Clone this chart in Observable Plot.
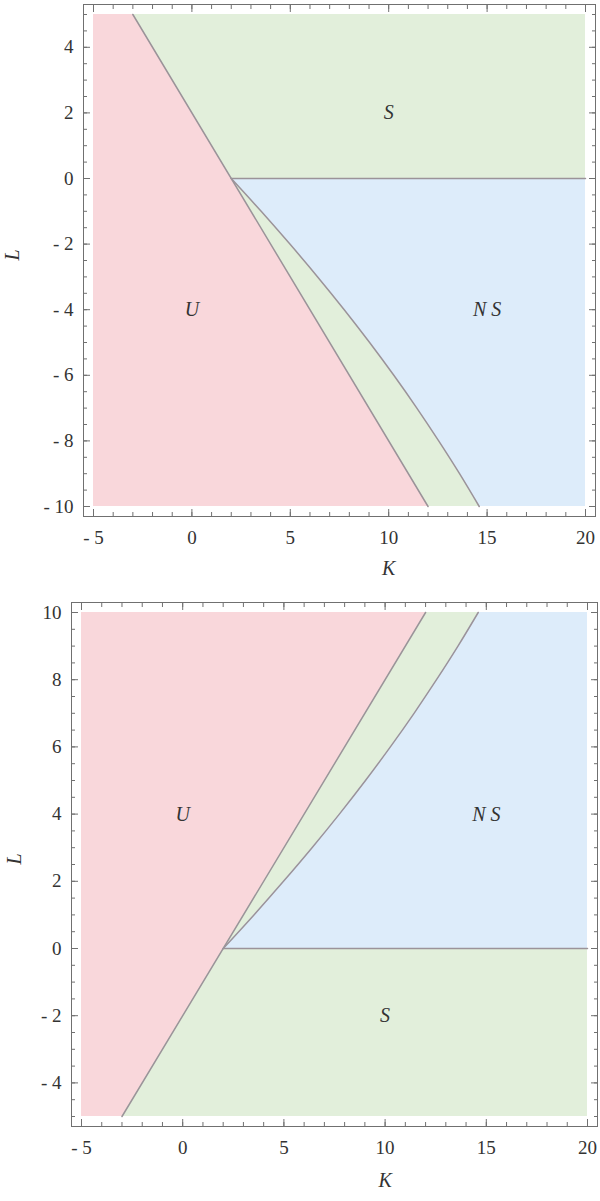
<!DOCTYPE html>
<html><head><meta charset="utf-8">
<script src="https://cdn.jsdelivr.net/npm/d3@7"></script>
<script src="https://cdn.jsdelivr.net/npm/@observablehq/plot@0.6"></script>
<style>body{margin:0;background:#fff} svg{display:block}</style>
</head><body><div id="c"></div>
<script>
// ---- data ----
const kDomain = [-5, 20];
const kMajor = [-5, 0, 5, 10, 15, 20];

// Top panel (L from -10 to 5)
const topLDomain = [-10, 5];
const topLMajor = [-10, -8, -6, -4, -2, 0, 2, 4];
const topLineK = [12, -3];          // U / S boundary endpoints
const topLineL = [-10, 5];
const topCurveL = [0, -1, -2, -3, -4, -5, -6, -7, -8, -9, -10];
const topCurveK = [2, 3.52, 4.98, 6.39, 7.74, 9.03, 10.26, 11.43, 12.54, 13.6, 14.6];
const topRegionNames = ["S", "U", "N S"];
const topRegionK = [10, 0, 15];
const topRegionL = [2, -4, -4];

// Bottom panel (L from -5 to 10)
const botLDomain = [-5, 10];
const botLMajor = [-4, -2, 0, 2, 4, 6, 8, 10];
const botLineK = [-3, 12];
const botLineL = [-5, 10];
const botCurveL = [0, 1, 2, 3, 4, 5, 6, 7, 8, 9, 10];
const botCurveK = [2, 3.52, 4.98, 6.39, 7.74, 9.03, 10.26, 11.43, 12.54, 13.6, 14.6];
const botRegionNames = ["U", "N S", "S"];
const botRegionK = [0, 15, 10];
const botRegionL = [4, 4, -2];

const colors = {U: "#f9d7db", S: "#e2efdb", NS: "#ddecfa", edge: "#9b9399", frame: "#707070", text: "#333"};

const fmt = d => d < 0 ? "- " + Math.abs(d) : String(d);

function panel(cfg) {
  const {lDomain, lMajor, lineK, lineL, curveL, curveK, names, rk, rl, m, height, kLabelDy, lLabelDx} = cfg;
  const uRows = lineL.map((L, i) => ({L, k1: kDomain[0], k2: lineK[i]}));
  const curve = curveL.map((L, i) => ({L, K: curveK[i]}));
  const line = lineL.map((L, i) => ({L, K: lineK[i]}));
  const horiz = [{K: curveK[0], L: curveL[0]}, {K: kDomain[1], L: curveL[0]}];
  const labels = names.map((n, i) => ({n, K: rk[i], L: rl[i]}));
  const kMinor = d3.range(kDomain[0], kDomain[1] + 0.01, 1);
  const lMinor = d3.range(lDomain[0], lDomain[1] + 0.01, 0.5);
  const tickStyle = {stroke: colors.frame, strokeWidth: 1};
  const ticks = [];
  for (const [vals, size] of [[kMinor, 4], [kMajor, 7]]) {
    ticks.push(Plot.axisX(vals, {anchor: "bottom", tickSize: size, dy: -size, text: null, label: null, ...tickStyle}));
    ticks.push(Plot.axisX(vals, {anchor: "top", tickSize: size, dy: size, text: null, label: null, ...tickStyle}));
  }
  for (const [vals, size] of [[lMinor, 4], [lMajor, 7]]) {
    ticks.push(Plot.axisY(vals, {anchor: "left", tickSize: size, dx: size, text: null, label: null, ...tickStyle}));
    ticks.push(Plot.axisY(vals, {anchor: "right", tickSize: size, dx: -size, text: null, label: null, ...tickStyle}));
  }
  return Plot.plot({
    width: 600, height,
    marginLeft: m[0], marginRight: m[1], marginTop: m[2], marginBottom: m[3],
    style: {fontFamily: "Liberation Serif, Times New Roman, serif", fontSize: "19px", color: colors.text, background: "#fff"},
    x: {domain: kDomain, inset: 10},
    y: {domain: lDomain, inset: 10},
    marks: [
      Plot.rect([0], {x1: kDomain[0], x2: kDomain[1], y1: lDomain[0], y2: lDomain[1], fill: colors.S}),
      Plot.areaX(uRows, {y: "L", x1: "k1", x2: "k2", fill: colors.U}),
      Plot.areaX(curve, {y: "L", x1: "K", x2: kDomain[1], fill: colors.NS, curve: "catmull-rom"}),
      Plot.line(line, {x: "K", y: "L", stroke: colors.edge, strokeWidth: 1.5}),
      Plot.line(curve, {x: "K", y: "L", stroke: colors.edge, strokeWidth: 1.5, curve: "catmull-rom"}),
      Plot.line(horiz, {x: "K", y: "L", stroke: colors.edge, strokeWidth: 1.5}),
      Plot.text(labels, {x: "K", y: "L", text: "n", fontStyle: "italic", fontSize: 20, fill: colors.text}),
      Plot.frame({stroke: colors.frame, strokeWidth: 1}),
      ...ticks,
      Plot.axisX(kMajor, {anchor: "bottom", tickSize: 0, tickPadding: 14, tickFormat: fmt, label: null, fill: colors.text}),
      Plot.axisY(lMajor, {anchor: "left", tickSize: 0, tickPadding: 10, tickFormat: fmt, label: null, fill: colors.text}),
      Plot.text(["K"], {x: 10, frameAnchor: "bottom", dy: kLabelDy, fontStyle: "italic", fontSize: 20, fill: colors.text}),
      Plot.text(["L"], {y: (lDomain[0] + lDomain[1]) / 2, frameAnchor: "left", dx: lLabelDx, rotate: -90, fontStyle: "italic", fontSize: 20, fill: colors.text})
    ]
  });
}

const c = document.getElementById("c");
c.append(panel({lDomain: topLDomain, lMajor: topLMajor, lineK: topLineK, lineL: topLineL,
  curveL: topCurveL, curveK: topCurveK, names: topRegionNames, rk: topRegionK, rl: topRegionL,
  m: [83, 5, 4, 74], height: 590, kLabelDy: 58, lLabelDx: -71}));
c.append(panel({lDomain: botLDomain, lMajor: botLMajor, lineK: botLineK, lineL: botLineL,
  curveL: botCurveL, curveK: botCurveK, names: botRegionNames, rk: botRegionK, rl: botRegionL,
  m: [71, 3, 12, 75], height: 611, kLabelDy: 60, lLabelDx: -57}));
</script>
</body></html>
